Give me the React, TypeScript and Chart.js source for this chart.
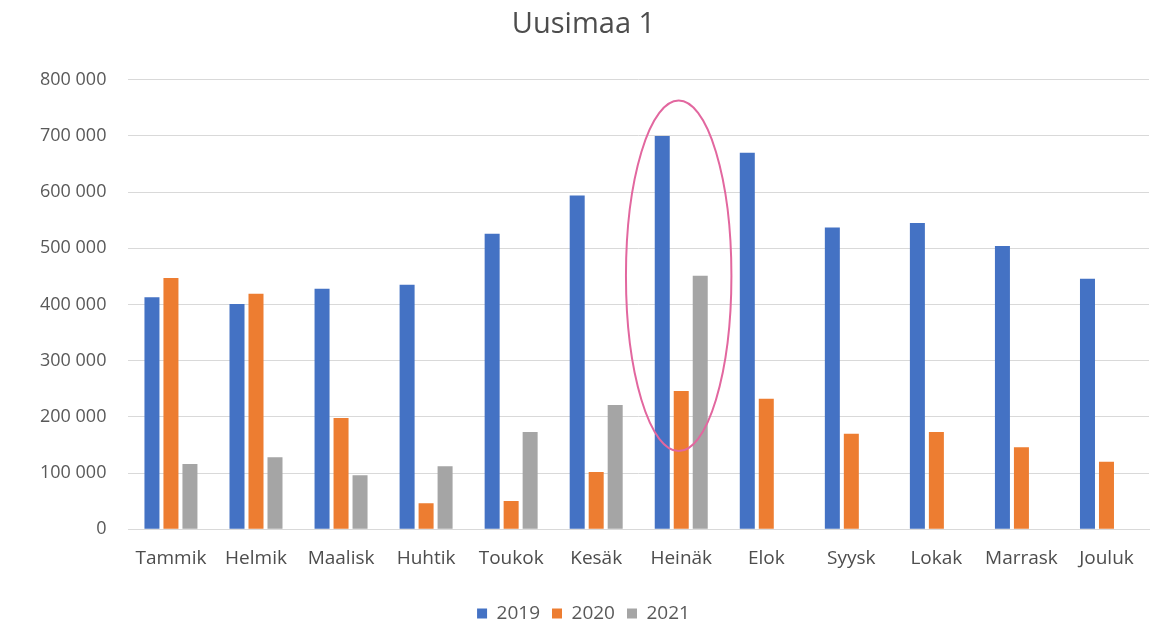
import React, { useEffect, useRef } from "react";
import { Chart, registerables } from "chart.js";

Chart.register(...registerables);

const categories = ["Tammik", "Helmik", "Maalisk", "Huhtik", "Toukok", "Kesäk", "Heinäk", "Elok", "Syysk", "Lokak", "Marrask", "Jouluk"];
const values2019 = [413000, 401000, 428000, 435000, 526000, 594000, 700000, 670000, 537000, 545000, 504000, 446000];
const values2020 = [447000, 419000, 198000, 46000, 50000, 102000, 246000, 232000, 170000, 173000, 146000, 120000];
const values2021 = [116000, 128000, 96000, 112000, 173000, 221000, 451000, null, null, null, null, null];
const seriesNames = ["2019", "2020", "2021"];
const highlightCategory = "Heinäk";
const highlightRange = [139000, 763000];

const FONT = "'Open Sans', 'Noto Sans', sans-serif";

const ellipsePlugin = {
  id: "highlightEllipse",
  afterDatasetsDraw(chart: any) {
    const x = chart.scales.x;
    const y = chart.scales.y;
    const idx = categories.indexOf(highlightCategory);
    const cx = x.getPixelForValue(idx);
    const catW = x.getPixelForValue(1) - x.getPixelForValue(0);
    const yTop = y.getPixelForValue(highlightRange[1]);
    const yBot = y.getPixelForValue(highlightRange[0]);
    const ctx = chart.ctx;
    ctx.save();
    ctx.beginPath();
    ctx.ellipse(cx - catW * 0.03, (yTop + yBot) / 2, catW * 0.62, (yBot - yTop) / 2, 0, 0, Math.PI * 2);
    ctx.strokeStyle = "#e2679f";
    ctx.lineWidth = 2;
    ctx.stroke();
    ctx.restore();
  },
};

export default function App() {
  const ref = useRef<HTMLCanvasElement>(null);
  useEffect(() => {
    document.body.style.margin = "0";
    const chart = new Chart(ref.current!, {
      type: "bar",
      data: {
        labels: categories,
        datasets: [
          { label: seriesNames[0], data: values2019, backgroundColor: "#4472c4" },
          { label: seriesNames[1], data: values2020, backgroundColor: "#ed7d31" },
          { label: seriesNames[2], data: values2021 as any, backgroundColor: "#a5a5a5" },
        ],
      },
      options: {
        animation: false,
        responsive: false,
        maintainAspectRatio: false,
        layout: { padding: { left: 18, right: 14, top: 6, bottom: -10 } },
        datasets: { bar: { categoryPercentage: 0.67, barPercentage: 0.79 } },
        plugins: {
          title: {
            display: true,
            text: "Uusimaa 1",
            color: "#4d4d4d",
            font: { family: FONT, size: 29, weight: "normal" },
            padding: { top: 1, bottom: 38 },
          },
          legend: {
            position: "bottom",
            labels: {
              boxWidth: 10,
              boxHeight: 10,
              color: "#595959",
              font: { family: FONT, size: 19 },
              padding: 12,
            },
          },
          tooltip: { enabled: false },
        },
        scales: {
          x: {
            grid: { display: false, drawTicks: false },
            border: { color: "#d9d9d9", width: 1 },
            ticks: { color: "#4d4d4d", font: { family: FONT, size: 19 }, padding: 18, maxRotation: 0 },
            afterFit: (scale: any) => {
              scale.height += 4;
            },
          },
          y: {
            min: 0,
            max: 800000,
            grid: { color: "#d9d9d9", drawTicks: false, lineWidth: 1 },
            border: { display: false },
            ticks: {
              stepSize: 100000,
              color: "#595959",
              padding: 22,
              font: { family: FONT, size: 18 },
              callback: (v: any) => Number(v).toLocaleString("fi-FI").replace(/\s/g, " "),
            },
          },
        },
      },
      plugins: [ellipsePlugin],
    });
    return () => chart.destroy();
  }, []);
  return (
    <div style={{ position: "absolute", left: 0, top: 0, width: 1163, height: 623, background: "#fff" }}>
      <canvas ref={ref} width={1163} height={623} />
    </div>
  );
}
